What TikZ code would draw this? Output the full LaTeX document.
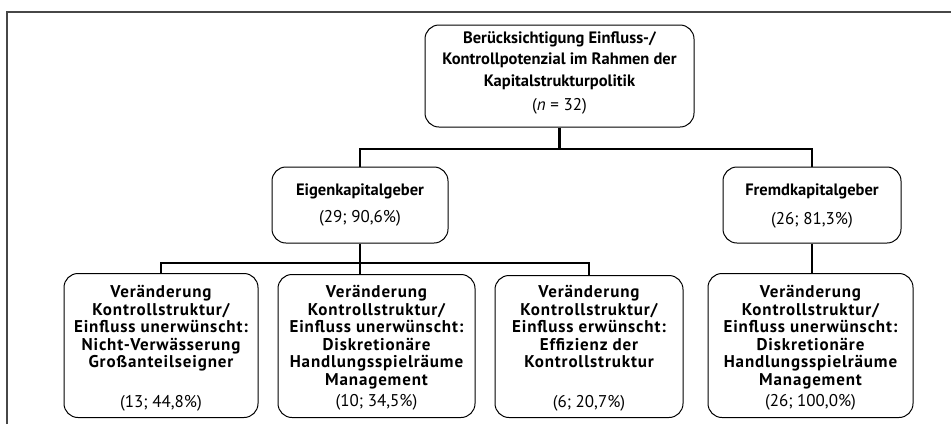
\documentclass[tikz,border=0pt]{standalone}
\usepackage{fontspec}
\setmainfont{PT Sans}
\newfontfamily\boxfont[LetterSpace=5]{PT Sans}
\begin{document}
\begin{tikzpicture}[x=1pt,y=-1pt,
  box/.style={draw, rounded corners=14pt, line width=1pt, inner sep=0pt},
  con/.style={line width=2.8pt},
  ttl/.style={font=\fontsize{16.5}{21.2}\selectfont\bfseries, align=center, inner sep=0pt},
  mid/.style={font=\fontsize{16.5}{18}\selectfont\bfseries, align=center, inner sep=0pt},
  btx/.style={font=\boxfont\fontsize{17}{17.6}\selectfont\bfseries, align=center, inner sep=0pt},
  num/.style={font=\fontsize{17}{18}\selectfont, inner sep=0pt}]
\useasboundingbox (0,0) rectangle (951,424);
\draw[line width=2pt, color=black!72] (7,424) -- (7,12) -- (951,12);
% boxes
\node[box, minimum width=269pt, minimum height=102pt] (root) at (559.5,76) {};
\node[box, minimum width=176pt, minimum height=76pt] (eig) at (360,205) {};
\node[box, minimum width=178pt, minimum height=76pt] (fre) at (812,205) {};
\node[box, minimum width=194pt, minimum height=144pt] (b1) at (161,345.5) {};
\node[box, minimum width=197pt, minimum height=143pt] (b2) at (376.5,346) {};
\node[box, minimum width=188pt, minimum height=142pt] (b3) at (589,346.5) {};
\node[box, minimum width=205pt, minimum height=144pt] (b4) at (810.5,345.5) {};
% texts
\node[ttl, anchor=north] (rt) at (559.5,31.5) {Berücksichtigung Einfluss-/\\Kontrollpotenzial im Rahmen der\\Kapitalstrukturpolitik};
\node[num] (rn) at (559.5,106.5) {(\textit{n} = 32)};
\node[mid] (et) at (360,191) {Eigenkapitalgeber};
\node[num] (en) at (360,218) {(29; 90,6\%)};
\node[mid] (ft) at (812,191) {Fremdkapitalgeber};
\node[num] (fn) at (812,220) {(26; 81,3\%)};
\node[btx, anchor=north] (t1) at (161,285) {Veränderung\\Kontrollstruktur/\\Einfluss unerwünscht:\\Nicht-Verwässerung\\Großanteilseigner};
\node[num] (n1) at (161,403) {(13; 44,8\%)};
\node[btx, anchor=north] (t2) at (376.5,285) {Veränderung\\Kontrollstruktur/\\Einfluss unerwünscht:\\Diskretionäre\\Handlungsspielräume\\Management};
\node[num] (n2) at (376.5,402) {(10; 34,5\%)};
\node[btx, anchor=north] (t3) at (589,285) {Veränderung\\Kontrollstruktur/\\Einfluss erwünscht:\\Effizienz der\\Kontrollstruktur};
\node[num] (n3) at (589,403) {(6; 20,7\%)};
\node[btx, anchor=north] (t4) at (810.5,285) {Veränderung\\Kontrollstruktur/\\Einfluss unerwünscht:\\Diskretionäre\\Handlungsspielräume\\Management};
\node[num] (n4) at (810.5,402) {(26; 100,0\%)};
% connectors
\coordinate (h1) at (559.5,149);
\coordinate (h2) at (360,263);
\draw[con] (root.south) -- (h1);
\draw[con] (eig.north) |- (h1) -| (fre.north);
\draw[con] (eig.south) -- (eig.south |- b2.north);
\draw[con] (b1.north) |- (h2) -| (b3.north);
\draw[con] (fre.south) -- (fre.south |- b4.north);
\end{tikzpicture}
\end{document}
